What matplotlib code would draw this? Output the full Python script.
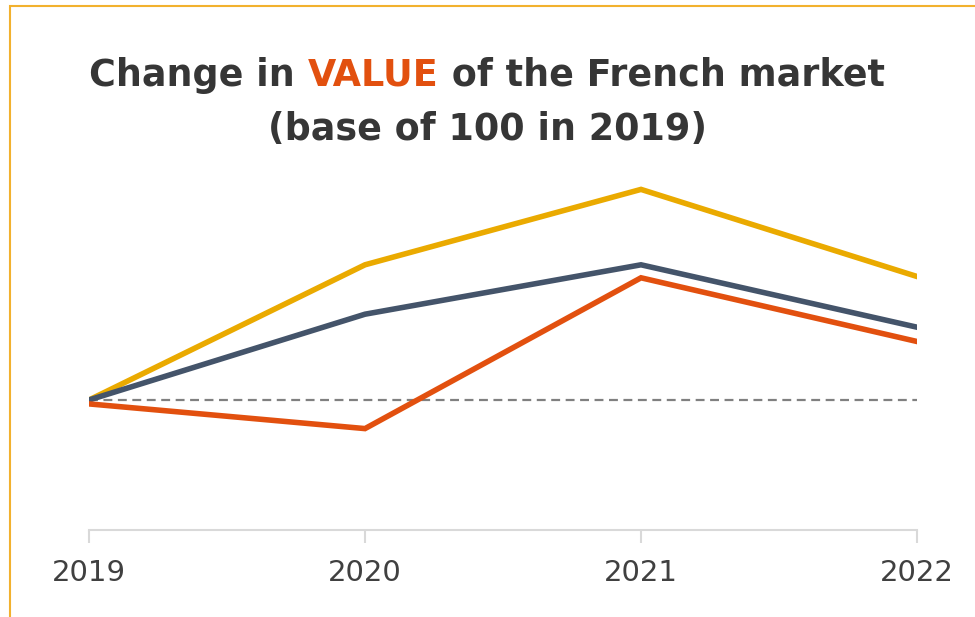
import matplotlib
matplotlib.use("Agg")
import matplotlib.pyplot as plt
from matplotlib.patches import Rectangle

# data (index, base 100 in 2019)
years = ["2019", "2020", "2021", "2022"]
s_yellow = [100.0, 110.4, 116.2, 109.5]
s_navy = [100.0, 106.6, 110.4, 105.6]
s_orange = [99.7, 97.8, 109.4, 104.5]
base = 100

c_yellow = "#EAAA00"
c_navy = "#44546A"
c_orange = "#E2500F"
c_text = "#404040"
c_title = "#363636"

plt.rcParams['font.family'] = ['DejaVu Sans']

fig = plt.figure(figsize=(9.75, 6.17), dpi=100)
W, H = 975, 617

# thin golden frame (top and left visible)
fig.patches.append(Rectangle((9.5 / W, -0.1), 1.2, (617 - 5.5) / H + 0.1,
                             transform=fig.transFigure, fill=False,
                             edgecolor="#F2B12E", linewidth=1.5))

ax = fig.add_axes([89 / W, (617 - 530) / H, (917 - 89) / W, 364 / H])
x = list(range(len(years)))
ax.plot(x, s_yellow, color=c_yellow, lw=4, solid_joinstyle="miter", zorder=3)
ax.plot(x, s_navy, color=c_navy, lw=4, solid_joinstyle="miter", zorder=4)
ax.plot(x, s_orange, color=c_orange, lw=4, solid_joinstyle="miter", zorder=5)
ax.axhline(base, color="#808080", lw=1.6, ls=(0, (4, 2.5)), zorder=2)

ax.set_xlim(0, 3)
ax.set_ylim(90, 118)
ax.set_xticks(x)
ax.set_xticklabels(years, fontsize=21, color=c_text)
ax.set_yticks([])
for s in ["top", "right", "left"]:
    ax.spines[s].set_visible(False)
ax.spines["bottom"].set_color("#D9D9D9")
ax.spines["bottom"].set_linewidth(1.5)
ax.tick_params(axis="x", length=9, width=1.5, color="#D9D9D9", pad=12)
ax.patch.set_alpha(0)

# title with coloured word
parts = [("Change in ", c_title), ("VALUE", c_orange), (" of the French market", c_title)]
fs = 26.3
renderer = fig.canvas.get_renderer()
texts = []
for s, c in parts:
    t = fig.text(0, 1 - 75 / H, s, fontsize=fs, fontweight="bold", color=c,
                 va="center", ha="left")
    texts.append(t)
widths = [t.get_window_extent(renderer).width for t in texts]
total = sum(widths)
xpos = (487 - total / 2)
for t, w in zip(texts, widths):
    t.set_x(xpos / W)
    xpos += w
fig.text(487 / W, 1 - 130 / H, "(base of 100 in 2019)", fontsize=fs,
         fontweight="bold", color=c_title, ha="center", va="center")

fig.savefig("out.png", dpi=100)
